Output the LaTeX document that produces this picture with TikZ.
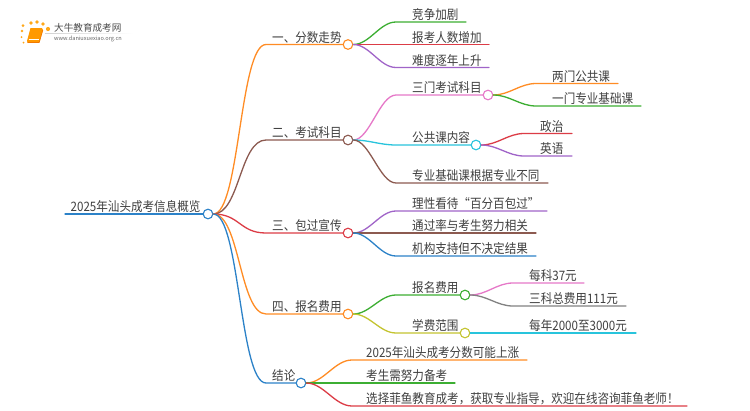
\documentclass[tikz,border=0pt]{standalone}
\usepackage{fontspec}
\setmainfont[FakeStretch=0.89]{Noto Sans CJK SC}
\newfontfamily\plainfont{Noto Sans CJK SC}
\usetikzlibrary{calc}
\definecolor{corange}{HTML}{FF8C24}
\definecolor{cbrown}{HTML}{8C5A50}
\definecolor{cred}{HTML}{DC3C46}
\definecolor{cblue}{HTML}{2C82C8}
\definecolor{cgreen}{HTML}{3CAE32}
\definecolor{cpurple}{HTML}{A064C8}
\definecolor{cpink}{HTML}{E678C8}
\definecolor{ccyan}{HTML}{28C4DC}
\definecolor{colive}{HTML}{C4C430}
\definecolor{cgray}{HTML}{828282}
\definecolor{ink}{HTML}{404040}
\tikzset{
  hub/.style={circle,draw=#1,fill=white,line width=1.1pt,minimum size=9.6pt,inner sep=0pt},
  lbl/.style={anchor=base west,inner sep=0pt,text=ink,font=\fontsize{13}{14}\selectfont},
  wire/.style={line width=1.3pt,#1,line cap=round},
  dot/.style={fill=#1,draw=none,opacity=.9}
}
\def\cfa{0.38}
\def\cfb{0.62}
% name, source node, colour, x where the curve ends, x of text, x of line end, y, text
\newcommand{\leaf}[8]{%
  \coordinate (#1s) at (#4,#7);
  \coordinate (#1e) at (#6,#7);
  \node[lbl] (#1) at (#5,#7-2.2) {#8};
  \draw[wire=#3] let \p1=(#2.east),\p2=(#1s) in
     (\p1) .. controls ({(1-\cfa)*\x1+\cfa*\x2},\y1) and ({(1-\cfb)*\x1+\cfb*\x2},\y2) .. (\p2) -- (#1e);
}
% same, ending on the west side of a hub node
\newcommand{\hubleaf}[8]{%
  \coordinate (#1s) at (#4,#7);
  \node[lbl] (#1) at (#5,#7-2.2) {#8};
  \draw[wire=#3] let \p1=(#2.east),\p2=(#1s) in
     (\p1) .. controls ({(1-\cfa)*\x1+\cfa*\x2},\y1) and ({(1-\cfb)*\x1+\cfb*\x2},\y2) .. (\p2) -- (#6.west);
}
\begin{document}
\begin{tikzpicture}[x=1pt,y=-1pt]
\useasboundingbox (0,0) rectangle (750,410);
\fill[white] (0,0) rectangle (750,410);

% logo
\foreach \px/\py/\pr in {23/25.5/1.5,31/23/1.8,37/22/1.8,43/24/1.9,48/29/2.1,22/31/1.3,21.5/37/1,23.5/42.5/1}
  \fill[dot={orange!75!yellow}] (\px,\py) circle (\pr);
\fill[orange!80!yellow] (30.5,28) -- (42,28) -- (43,30) -- (39.5,42) -- (28,43) -- (27,41) -- cycle;
\draw[white,line width=.5pt] (28.5,39) -- (39,39);
\draw[orange!95!black,line width=.7pt] (27.5,42.6) -- (39.2,42.4) -- (42.8,30);
\node[inner sep=0pt,anchor=base west,text=black!70,font=\plainfont\fontsize{9.6}{10}\selectfont] (logoa) at (54,31) {大牛教育成考网};
\node[inner sep=0pt,anchor=base west,text=black!60,font=\plainfont\fontsize{5.6}{6}\selectfont] (logob) at (54,40.7) {www.daniuxuexiao.org.cn};
\shade[left color=black!18,right color=white] (45,33) rectangle (133,33.7);

% hubs
\node[hub=cblue]   (root) at (208,214) {};
\node[hub=corange] (a) at (348,44.5) {};
\node[hub=cbrown]  (b) at (348,140) {};
\node[hub=cred]    (c) at (348,233) {};
\node[hub=corange] (d) at (348,314) {};
\node[hub=cblue]   (e) at (301,383) {};
\node[hub=cpink]   (b1) at (488,95) {};
\node[hub=ccyan]   (b2) at (476,145) {};
\node[hub=cgreen]  (d1) at (465,295) {};
\node[hub=colive]  (d2) at (465,333) {};

% root
\coordinate (rootw) at (65,214);
\draw[wire=cblue] (rootw) -- (root.west);
\node[lbl] (roott) at (70.5,211.8) {2025年汕头成考信息概览};

% first level
\def\cfa{0.5}\def\cfb{0.5}
\hubleaf{at}{root}{corange}{266}{272}{a}{44.5}{一、分数走势}
\hubleaf{bt}{root}{cbrown}{266}{272}{b}{140}{二、考试科目}
\hubleaf{ct}{root}{cred}{266}{272}{c}{233}{三、包过宣传}
\hubleaf{dt}{root}{corange}{266}{272}{d}{314}{四、报名费用}
\hubleaf{et}{root}{cblue}{266}{272}{e}{383}{结论}
\def\cfa{0.38}\def\cfb{0.62}

% branch one
\leaf{a1}{a}{cgreen}{396}{412}{466}{22}{竞争加剧}
\leaf{a2}{a}{cred}{396}{412}{489}{44.5}{报考人数增加}
\leaf{a3}{a}{cpurple}{396}{412}{489}{67.5}{难度逐年上升}

% branch two
\hubleaf{b1t}{b}{cpink}{396}{412}{b1}{95}{三门考试科目}
\hubleaf{b2t}{b}{ccyan}{396}{412}{b2}{145}{公共课内容}
\leaf{b3}{b}{cbrown}{396}{412}{548}{183}{专业基础课根据专业不同}
\leaf{b11}{b1}{corange}{536}{552}{618}{83.5}{两门公共课}
\leaf{b12}{b1}{cgreen}{536}{552}{641}{106}{一门专业基础课}
\leaf{b21}{b2}{cred}{524}{540}{572}{133.5}{政治}
\leaf{b22}{b2}{cpurple}{524}{540}{572}{156}{英语}

% branch three
\leaf{c1}{c}{cpurple}{396}{412}{547}{211}{理性看待“百分百包过”}
\leaf{c2}{c}{cbrown}{396}{412}{536}{233}{通过率与考生努力相关}
\leaf{c3}{c}{cblue}{396}{412}{536}{256}{机构支持但不决定结果}

% branch four
\hubleaf{d1t}{d}{cgreen}{396}{412}{d1}{295}{报名费用}
\hubleaf{d2t}{d}{colive}{396}{412}{d2}{333}{学费范围}
\leaf{d11}{d1}{cpink}{513}{529}{584}{283}{每科37元}
\leaf{d12}{d1}{cgray}{513}{529}{626}{306}{三科总费用111元}
\leaf{d21}{d2}{ccyan}{513}{529}{636}{333}{每年2000至3000元}

% conclusion
\leaf{e1}{e}{corange}{352}{366}{527}{360}{2025年汕头成考分数可能上涨}
\leaf{e2}{e}{cgreen}{352}{366}{455}{383}{考生需努力备考}
\leaf{e3}{e}{cred}{352}{366}{687}{406}{选择菲鱼教育成考，获取专业指导，欢迎在线咨询菲鱼老师！}
\end{tikzpicture}
\end{document}
